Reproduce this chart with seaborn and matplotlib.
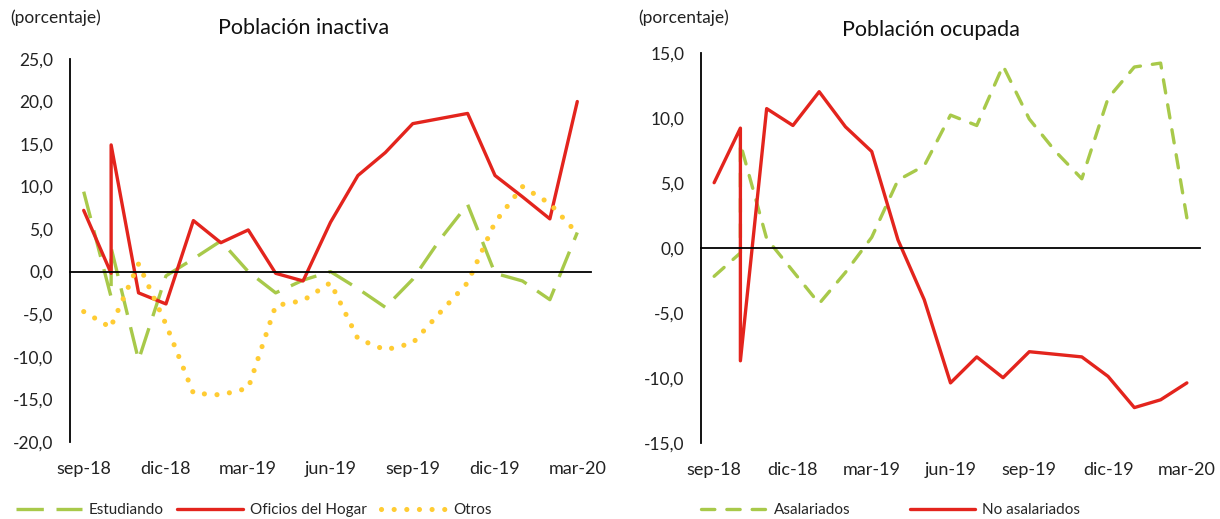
import matplotlib
matplotlib.use("Agg")
from matplotlib import pyplot as plt
from matplotlib.ticker import FuncFormatter
import pandas as pd
import seaborn as sns

# categorias mensuales del eje
meses = ['sep-18', 'oct-18', 'nov-18', 'dic-18', 'ene-19', 'feb-19', 'mar-19',
         'abr-19', 'may-19', 'jun-19', 'jul-19', 'ago-19', 'sep-19', 'oct-19',
         'nov-19', 'dic-19', 'ene-20', 'feb-20', 'mar-20']
# oct-18 aparece dos veces en la serie original
fechas = ['sep-18', 'oct-18', 'oct-18'] + meses[2:]

# Poblacion inactiva (variacion %)
estudiando = [9.4, -3.0, 2.8, -10.4, -0.5, 1.5, 3.6, 0.0, -2.5, -1.0,
              0.0, -2.0, -4.2, -0.9, 3.8, 7.9, -0.2, -1.1, -3.3, 4.6]
oficios_hogar = [7.2, -0.2, 14.9, -2.5, -3.8, 6.0, 3.4, 4.9, -0.2, -1.1,
                 5.8, 11.3, 14.0, 17.4, 18.0, 18.6, 11.3, 8.8, 6.2, 20.0]
otros = [-4.7, -6.6, -6.4, 0.9, -6.2, -14.3, -14.5, -13.7, -4.0, -3.4,
         -1.3, -7.9, -9.2, -8.4, -4.8, -1.3, 5.8, 10.0, 8.0, 4.5]

# Poblacion ocupada (variacion %)
asalariados = [-2.2, -0.4, 8.0, 0.7, -1.8, -4.3, -1.9, 0.8, 5.2, 6.3,
               10.2, 9.4, 14.0, 9.9, 7.4, 5.3, 11.5, 13.9, 14.2, 2.3]
no_asalariados = [5.0, 9.2, -8.7, 10.7, 9.4, 12.0, 9.3, 7.4, 0.6, -4.0,
                  -10.4, -8.4, -10.0, -8.0, -8.2, -8.4, -9.9, -12.3, -11.7, -10.4]

VERDE = '#A8C94A'
ROJO = '#E3241D'
AMARILLO = '#FFCC33'

sns.set_style('white')
plt.rcParams['font.family'] = ['Lato', 'DejaVu Sans']

df = pd.DataFrame({
    'x': [meses.index(f) for f in fechas],
    'Estudiando': estudiando,
    'Oficios del Hogar': oficios_hogar,
    'Otros': otros,
    'Asalariados': asalariados,
    'No asalariados': no_asalariados,
})

fig = plt.figure(figsize=(12.2, 5.19), dpi=100)
ax1 = fig.add_axes([70 / 1220, 77.3 / 519, 521 / 1220, 382.7 / 519])
ax2 = fig.add_axes([701 / 1220, 76.3 / 519, 499 / 1220, 390 / 519])

lw = 2.4
common = dict(estimator=None, sort=False, legend=False)
sns.lineplot(data=df, x='x', y='Estudiando', ax=ax1, color=VERDE, linewidth=lw,
             linestyle=(0, (8.2, 3.8)), label='Estudiando', **common)
sns.lineplot(data=df, x='x', y='Oficios del Hogar', ax=ax1, color=ROJO,
             linewidth=lw, label='Oficios del Hogar', **common)
sns.lineplot(data=df, x='x', y='Otros', ax=ax1, color=AMARILLO, linewidth=3.7,
             linestyle=(0, (0.01, 2.45)), dash_capstyle='round',
             label='Otros', **common)

sns.lineplot(data=df, x='x', y='Asalariados', ax=ax2, color=VERDE, linewidth=lw,
             linestyle=(0, (4.0, 3.6)), dash_capstyle='round',
             label='Asalariados', **common)
sns.lineplot(data=df, x='x', y='No asalariados', ax=ax2, color=ROJO,
             linewidth=lw, label='No asalariados', **common)

fmt = FuncFormatter(lambda v, p: f'{v:.1f}'.replace('.', ','))

for ax, lims in ((ax1, (-20, 25)), (ax2, (-15, 15))):
    ax.set_xlim(-0.5, len(meses) - 0.5)
    ax.set_ylim(*lims)
    ax.set_yticks(range(lims[0], lims[1] + 1, 5))
    ax.yaxis.set_major_formatter(fmt)
    ax.set_xlabel('')
    ax.set_ylabel('')
    ax.spines['top'].set_visible(False)
    ax.spines['right'].set_visible(False)
    ax.spines['left'].set_linewidth(1.3)
    ax.spines['bottom'].set_linewidth(1.3)
    ax.spines['bottom'].set_position(('data', 0))
    ax.spines['left'].set_color('black')
    ax.spines['bottom'].set_color('black')
    ax.set_xticks([i + 2.5 for i in range(0, len(meses) - 3, 3)])
    ax.tick_params(axis='x', direction='in', length=4.5, width=1.3,
                   color='black', labelbottom=False)
    ax.tick_params(axis='y', direction='in', length=4.5, width=1.3,
                   color='black', labelsize=12.5, labelcolor='#222222', pad=12)
    sec = ax.secondary_xaxis('bottom')
    sec.set_xticks(range(0, len(meses), 3), labels=meses[::3])
    sec.tick_params(length=0, pad=14, labelsize=13, labelcolor='#222222')
    sec.spines['bottom'].set_visible(False)

fig.text(304 / 1220, 1 - 28 / 519, 'Población inactiva', ha='center', va='center',
         fontsize=15.5, color='#111111')
fig.text(931 / 1220, 1 - 30 / 519, 'Población ocupada', ha='center', va='center',
         fontsize=15.5, color='#111111')
fig.text(10 / 1220, 1 - 18 / 519, '(porcentaje)', ha='left', va='center',
         fontsize=12.5, color='#222222')
fig.text(638 / 1220, 1 - 18 / 519, '(porcentaje)', ha='left', va='center',
         fontsize=12.5, color='#222222')

leg_kw = dict(loc='center left', bbox_transform=fig.transFigure, frameon=False,
              handlelength=4.3, handletextpad=0.45, borderaxespad=0, borderpad=0,
              fontsize=11)
ax1.legend(ncol=3, bbox_to_anchor=(16 / 1220, 1 - 510 / 519),
           columnspacing=0.9, **leg_kw)
ax2.legend(ncol=2, bbox_to_anchor=(701 / 1220, 1 - 510 / 519),
           columnspacing=3.9, **leg_kw)

fig.savefig('out.png', dpi=100)
